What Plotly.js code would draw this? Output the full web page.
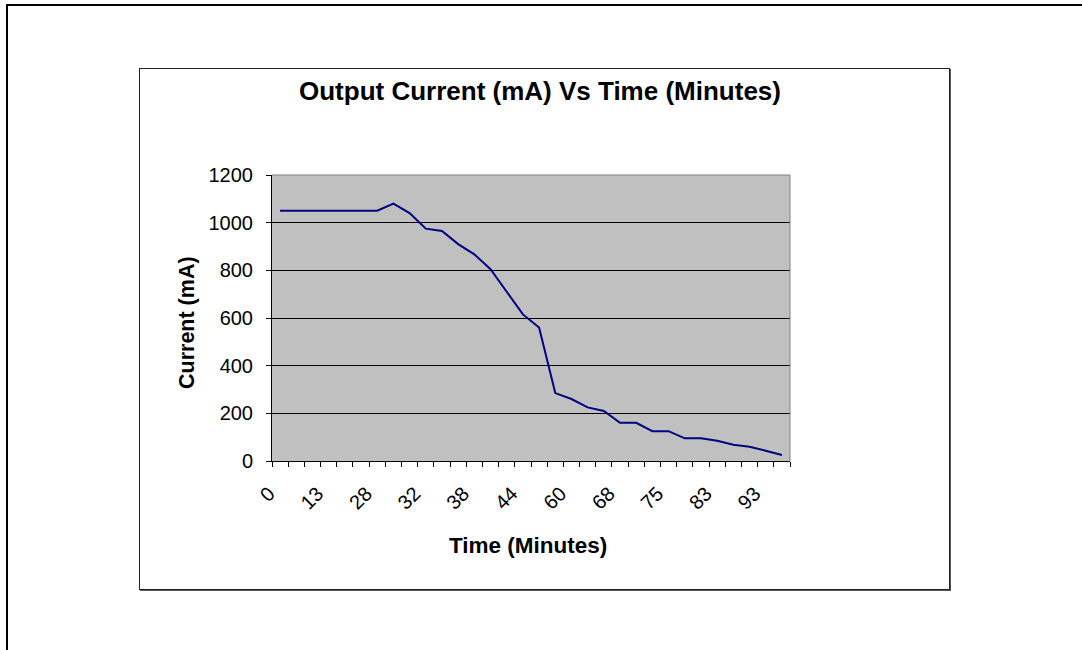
<!DOCTYPE html>
<html>
<head>
<meta charset="utf-8">
<script src="https://cdn.plot.ly/plotly-3.0.1.min.js"></script>
<style>
  html, body { margin: 0; padding: 0; background: #ffffff; }
  body { width: 1082px; height: 650px; position: relative; overflow: hidden; }
  #outerTop { position: absolute; left: 6px; top: 4px; width: 1076px; height: 2px; background: #000; }
  #outerLeft { position: absolute; left: 6px; top: 4px; width: 2px; height: 646px; background: #000; }
  #chartBox { position: absolute; left: 139px; top: 68px; width: 809px; height: 520px; border: 1px solid #222; box-shadow: 1px 1px 0 #555; background: #fff; }
  #chart { position: absolute; left: 0; top: 0; width: 1082px; height: 650px; }
</style>
</head>
<body>
<div id="outerTop"></div>
<div id="outerLeft"></div>
<div id="chartBox"></div>
<div id="chart"></div>
<script>
// Time (minutes) for each recorded sample (category labels)
var times = [0, 5, 9, 13, 18, 23, 28, 29, 31, 32, 34, 36, 38, 40, 42, 44,
             50, 55, 60, 63, 65, 68, 70, 73, 75, 78, 80, 83, 86, 90, 93, 96];
// Output current (mA) at each sample
var currentMA = [1050, 1050, 1050, 1050, 1050, 1050, 1050, 1080, 1040, 975,
                 965, 910, 867, 805, 710, 615, 560, 285, 260, 225, 210, 160,
                 160, 125, 125, 95, 95, 85, 68, 60, 43, 25];
// Labels shown on the category axis (every third sample)
var labelEvery = 3;

var W = 1082, H = 650;
var plotL = 272, plotR = 790, plotT = 175, plotB = 461;
function px2x(px) { return (px - plotL) / (plotR - plotL); }
function py2y(py) { return (plotB - py) / (plotB - plotT); }

var catIdx = times.map(function (t, i) { return i; });
var tickIdx = catIdx.filter(function (i) { return i % labelEvery === 0; });
var tickTxt = tickIdx.map(function (i) { return String(times[i]); });

var trace = {
  type: 'scatter',
  mode: 'lines',
  x: catIdx,
  y: currentMA,
  text: times.map(function (t) { return t + ' min'; }),
  line: { color: '#000080', width: 2 },
  hoverinfo: 'text+y',
  showlegend: false
};

var fontFam = 'Arial, "Liberation Sans", sans-serif';

var layout = {
  width: W, height: H,
  margin: { l: plotL, r: W - plotR, t: plotT, b: H - plotB, pad: 0 },
  paper_bgcolor: 'rgba(0,0,0,0)',
  plot_bgcolor: '#c0c0c0',
  font: { family: fontFam, color: '#000' },
  xaxis: {
    type: 'linear',
    range: [-0.5, times.length - 0.5],
    tickmode: 'array',
    tickvals: tickIdx,
    ticktext: tickTxt,
    tickangle: -45,
    ticks: '',
    ticklabelstandoff: 12,
    ticklabelshift: -11,
    tickfont: { family: fontFam, size: 20, color: '#000' },
    showgrid: false,
    zeroline: false,
    showline: true,
    linecolor: '#000',
    linewidth: 1,
    mirror: false,
    minor: { ticks: 'outside', ticklen: 5, tickcolor: '#000', tickwidth: 1, tick0: -0.5, dtick: 1, showgrid: false },
    fixedrange: true
  },
  yaxis: {
    range: [0, 1200],
    tickmode: 'linear',
    tick0: 0,
    dtick: 200,
    ticks: 'outside',
    ticklen: 5,
    tickcolor: '#000',
    ticklabelstandoff: 9,
    tickfont: { family: fontFam, size: 20, color: '#000' },
    showgrid: true,
    gridcolor: '#000',
    gridwidth: 1,
    zeroline: false,
    showline: true,
    linecolor: '#000',
    linewidth: 1,
    fixedrange: true
  },
  shapes: [
    { type: 'line', xref: 'paper', yref: 'paper', x0: 0, x1: 1, y0: 1, y1: 1, line: { color: '#808080', width: 1 } },
    { type: 'line', xref: 'paper', yref: 'paper', x0: 1, x1: 1, y0: 0, y1: 1, line: { color: '#808080', width: 1 } }
  ],
  annotations: [
    { text: '<b>Output Current (mA) Vs Time (Minutes)</b>', xref: 'paper', yref: 'paper',
      x: px2x(540), y: py2y(91), xanchor: 'center', yanchor: 'middle', showarrow: false,
      font: { family: fontFam, size: 26, color: '#000' } },
    { text: '<b>Current (mA)</b>', xref: 'paper', yref: 'paper',
      x: px2x(187), y: py2y(323), xanchor: 'center', yanchor: 'middle', showarrow: false, textangle: -90,
      font: { family: fontFam, size: 21.5, color: '#000' } },
    { text: '<b>Time (Minutes)</b>', xref: 'paper', yref: 'paper',
      x: px2x(528), y: py2y(545), xanchor: 'center', yanchor: 'middle', showarrow: false,
      font: { family: fontFam, size: 22.5, color: '#000' } }
  ]
};

Plotly.newPlot('chart', [trace], layout, { displayModeBar: false, staticPlot: false });
</script>
</body>
</html>
